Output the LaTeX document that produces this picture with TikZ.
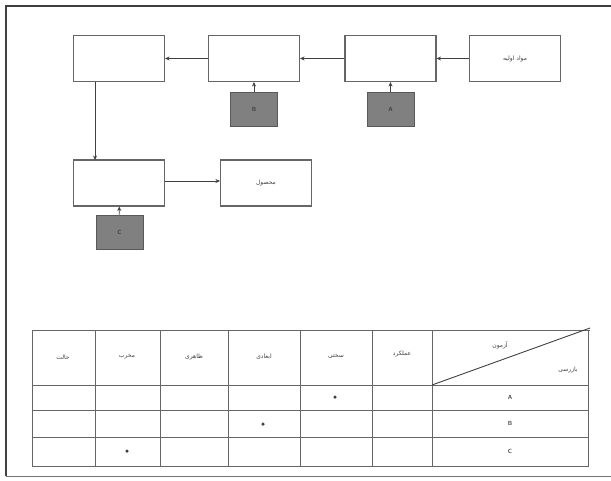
\documentclass[tikz,border=0pt]{standalone}
\usepackage{fontspec}
\newfontfamily\arabicfont[Script=Arabic]{DejaVu Sans}
\TeXXeTstate=1
\usetikzlibrary{arrows.meta}
\begin{document}
\begin{tikzpicture}[x=1pt,y=-1pt,
  procbox/.style={draw=black!60,line width=1.1pt,minimum width=91pt,minimum height=46pt,inner sep=0pt,font=\arabicfont\fontsize{6}{7}\selectfont,text=black!75},
  insp/.style={draw=black!65,fill=black!50,line width=1pt,minimum width=47pt,minimum height=34pt,inner sep=0pt,font=\sffamily\bfseries\fontsize{6}{7}\selectfont,text=black!75},
  flow/.style={draw=black!75,line width=0.7pt,-{Stealth[length=4.5pt,width=4pt]}},
  tablerule/.style={draw=black!60,line width=0.8pt},
  hdr/.style={font=\arabicfont\fontsize{6}{7}\selectfont,text=black!75,inner sep=0pt},
  rowlab/.style={font=\sffamily\bfseries\fontsize{6}{7}\selectfont,text=black!70,inner sep=0pt},
  tickdot/.style={circle,fill=black!75,minimum size=3.5pt,inner sep=0pt}]
\useasboundingbox (0,0) rectangle (611,480);
% frame
\draw[black!75,line width=1.4pt] (6,476) -- (6,6) -- (611,6);
\draw[black!55,line width=0.9pt] (6,476) -- (611,476);
% process boxes
\node[procbox] (p1) at (119,58.5) {};
\node[procbox] (p2) at (254,58.5) {};
\node[procbox] (p3) at (390.5,58.5) {};
\node[procbox] (raw) at (515,58.5) {\beginR مواد اولیه\endR};
\node[procbox] (p5) at (119,183) {};
\node[procbox] (prod) at (266,183) {\beginR محصول\endR};
% inspection stations
\node[insp] (B) at (254,109) {B};
\node[insp] (A) at (390.5,109) {A};
\node[insp] (C) at (119.5,232) {C};
% connectors
\draw[flow] (raw) -- (p3);
\draw[flow] (p3) -- (p2);
\draw[flow] (p2) -- (p1);
\coordinate (t1) at (95,81.5);
\coordinate (t5) at (95,160);
\draw[flow] (t1) -- (t5);
\draw[flow] (p5.east |- 0,181) -- (prod.west |- 0,181);
\draw[flow] (B) -- (p2);
\draw[flow] (A) -- (p3);
\draw[flow] (C) -- (p5);
% table
\draw[tablerule] (32,330) rectangle (588,466);
\draw[tablerule] (432,330) -- (590,330);
\foreach \y in {385,410,437} \draw[tablerule] (32,\y) -- (588,\y);
\foreach \x in {95,160,228,300,372,432} \draw[tablerule] (\x,330) -- (\x,466);
\draw[black!75,line width=0.9pt] (432,385) -- (590,328);
% headers (right to left)
\node[hdr] (h1) at (402,354) {\beginR عملکرد\endR};
\node[hdr] (h2) at (336,356) {\beginR سختی\endR};
\node[hdr] (h3) at (264,357) {\beginR ابعادی\endR};
\node[hdr] (h4) at (194,357) {\beginR ظاهری\endR};
\node[hdr] (h5) at (127,357) {\beginR مخرب\endR};
\node[hdr] (h6) at (63,357) {\beginR حالت\endR};
\node[hdr] (d1) at (500,345) {\beginR آزمون\endR};
\node[hdr] (d2) at (568,370) {\beginR بازرسی\endR};
% row labels
\node[rowlab] (rA) at (510,397) {A};
\node[rowlab] (rB) at (510,423) {B};
\node[rowlab] (rC) at (510,451) {C};
% marks
\node[tickdot] (mA) at (335,397) {};
\node[tickdot] (mB) at (263,424) {};
\node[tickdot] (mC) at (127,451) {};
\end{tikzpicture}
\end{document}
